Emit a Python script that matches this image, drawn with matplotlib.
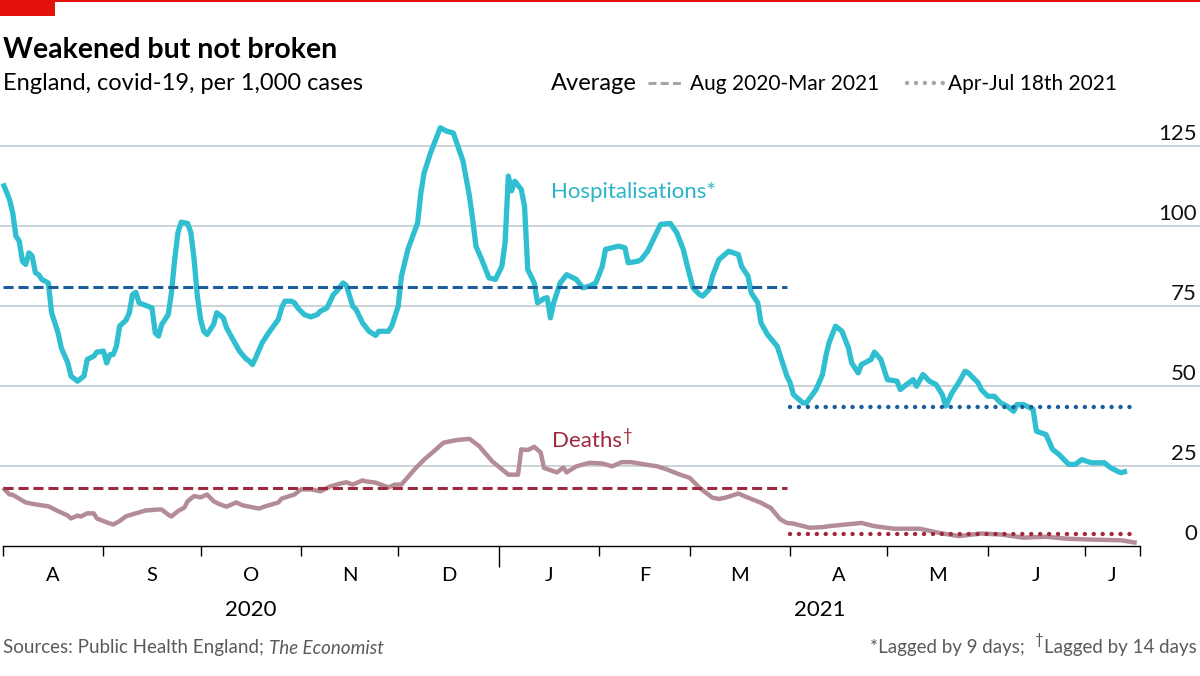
import matplotlib
matplotlib.use("Agg")
import matplotlib.pyplot as plt
import matplotlib.dates as mdates
import matplotlib.transforms as mtransforms
from matplotlib.lines import Line2D
from matplotlib.patches import Rectangle
import pandas as pd

plt.rcParams['font.family'] = ['Lato', 'DejaVu Sans']

# ---- data ----
start = pd.Timestamp('2020-08-01')
end = pd.Timestamp('2021-07-18')
split = pd.Timestamp('2021-04-01')

# days after 1 Aug 2020
hosp_day = [0, 2, 3, 4, 5, 6, 7, 8, 9, 10, 11, 12, 14, 15, 17, 18, 20, 21, 23, 25,
            26, 28, 29, 31, 32, 33, 34, 35, 36, 38, 39, 40, 41, 42, 44, 46, 47, 48, 49, 51,
            52, 53, 54, 55, 57, 58, 59, 60, 61, 62, 63, 65, 66, 68, 69, 71, 73, 75, 76, 77,
            78, 80, 82, 85, 86, 87, 89, 90, 91, 93, 95, 97, 98, 100, 102, 103, 105, 106, 108, 109,
            111, 113, 115, 116, 119, 120, 122, 123, 125, 128, 129, 130, 132, 134, 135, 137, 139, 142, 144, 145,
            146, 148, 149, 150, 152, 154, 155, 156, 157, 158, 160, 161, 162, 164, 165, 167, 168, 169, 170, 172,
            174, 177, 179, 181, 183, 185, 186, 188, 190, 192, 193, 196, 197, 199, 201, 203, 206, 208, 210, 211,
            213, 215, 216, 218, 219, 221, 224, 227, 228, 230, 231, 233, 234, 236, 239, 241, 242, 243, 244, 247,
            248, 251, 253, 254, 255, 257, 259, 261, 262, 264, 265, 268, 269, 271, 273, 276, 277, 279, 281, 282,
            284, 286, 288, 290, 291, 293, 295, 297, 298, 301, 302, 304, 306, 308, 310, 312, 313, 315, 318, 319,
            322, 324, 326, 329, 331, 333, 336, 340, 342, 345, 347]
hosp_val = [113.3, 108.3, 104.1, 96.8, 95.3, 89.0, 88.0, 91.6, 90.6, 85.4, 84.8, 83.3, 82.2, 72.9, 66.6, 61.9, 57.2, 53.1, 51.5, 53.1,
            58.3, 59.3, 60.6, 60.9, 57.2, 59.8, 59.8, 62.4, 68.7, 70.6, 72.9, 78.6, 79.3, 76.0, 75.2, 74.4, 66.6, 65.6, 69.2, 72.3,
            79.1, 89.5, 97.9, 101.2, 100.8, 97.9, 89.5, 78.1, 70.8, 67.1, 66.1, 69.2, 72.9, 71.3, 68.2, 64.5, 60.9, 58.5, 57.8, 56.7,
            58.8, 63.5, 66.6, 70.8, 74.4, 76.5, 76.5, 76.0, 74.4, 72.3, 71.6, 72.3, 73.4, 74.4, 78.6, 79.6, 82.2, 81.4, 74.9, 73.9,
            69.7, 67.1, 65.8, 67.1, 67.1, 68.7, 74.9, 84.3, 92.7, 101.0, 110.4, 116.6, 122.9, 128.1, 130.7, 129.6, 129.1, 120.3, 109.3, 102.0,
            93.7, 89.0, 86.4, 83.8, 83.3, 87.4, 94.8, 115.6, 111.0, 114.0, 111.4, 106.2, 86.4, 82.2, 76.0, 77.3, 77.6, 71.3, 76.0, 82.2,
            84.8, 83.3, 80.7, 81.2, 82.2, 87.4, 92.7, 93.2, 93.7, 93.2, 88.5, 89.0, 89.5, 92.1, 96.3, 100.5, 100.8, 97.9, 92.7, 88.5,
            80.7, 78.6, 78.1, 80.2, 84.3, 89.5, 92.1, 91.1, 87.4, 84.3, 79.1, 76.0, 69.7, 66.1, 62.4, 56.2, 53.1, 51.0, 47.3, 44.7,
            44.7, 48.9, 53.6, 59.3, 63.5, 68.7, 67.1, 61.9, 57.2, 54.1, 56.7, 58.3, 60.6, 58.3, 52.0, 51.5, 48.9, 50.5, 52.0, 49.9,
            53.6, 51.5, 50.5, 47.3, 43.7, 47.9, 51.0, 54.6, 54.1, 51.0, 48.9, 46.8, 46.8, 44.7, 43.7, 42.1, 44.2, 44.2, 42.7, 35.9,
            34.8, 30.2, 28.6, 25.5, 25.5, 27.0, 26.0, 26.0, 24.4, 22.9, 23.4]

death_day = [0, 2, 3, 5, 7, 10, 14, 17, 20, 21, 23, 24, 26, 28, 29, 32, 34, 36, 38, 41,
             44, 48, 49, 51, 52, 54, 56, 57, 59, 61, 63, 65, 67, 69, 72, 74, 77, 79, 81, 85,
             86, 90, 92, 95, 98, 101, 104, 106, 108, 111, 112, 115, 119, 121, 123, 127, 130, 133, 136, 140,
             144, 147, 151, 156, 159, 160, 162, 164, 166, 167, 169, 171, 173, 174, 177, 181, 185, 188, 191, 194,
             198, 202, 205, 209, 212, 215, 219, 221, 223, 227, 230, 234, 237, 240, 242, 244, 249, 253, 255, 260,
             265, 269, 275, 283, 289, 295, 302, 308, 315, 322, 328, 336, 345, 350]
death_val = [18.2, 16.1, 16.0, 14.8, 13.6, 13.0, 12.4, 10.9, 9.5, 8.6, 9.5, 9.2, 10.2, 10.2, 8.6, 7.4, 6.7, 7.8, 9.3, 10.2,
             11.1, 11.4, 11.4, 9.8, 9.2, 10.9, 12.0, 14.0, 15.6, 15.2, 16.1, 14.0, 13.0, 12.3, 13.6, 12.7, 12.1, 11.7, 12.4, 13.6,
             14.8, 16.1, 17.7, 17.7, 17.1, 18.6, 19.5, 19.9, 19.2, 20.5, 20.2, 19.8, 18.3, 19.2, 19.2, 23.9, 27.0, 29.6, 32.3, 33.1,
             33.5, 31.2, 26.5, 22.3, 22.3, 30.2, 30.0, 31.0, 29.2, 24.4, 23.7, 23.0, 24.5, 23.0, 24.9, 26.0, 25.8, 24.9, 26.2, 26.2,
             25.5, 24.9, 23.9, 22.3, 21.3, 18.2, 15.1, 14.7, 15.1, 16.4, 15.1, 13.5, 11.9, 8.3, 7.2, 7.0, 5.7, 5.9, 6.2, 6.7,
             7.2, 6.2, 5.4, 5.4, 4.1, 3.1, 3.9, 3.6, 2.6, 2.9, 2.3, 2.0, 1.8, 1.0]

hosp_avg = [81.0, 43.4]     # Aug 2020-Mar 2021, Apr-Jul 18th 2021
death_avg = [18.2, 3.9]

y_ticks = [0, 25, 50, 75, 100, 125]
month_letters = ['A', 'S', 'O', 'N', 'D', 'J', 'F', 'M', 'A', 'M', 'J', 'J']

# ---- colours ----
RED = '#e3120b'
CYAN = '#30bfd0'
HOSP_AVG = '#1b5e9c'
DEATH_LINE = '#b48c97'
DEATH_AVG = '#9f2a40'
GRID = '#c7d0d8'
GREY_TXT = '#5a5a5a'

W, H = 1200, 676


def fx(x):
    return x / W


def fy(y):
    return 1 - y / H


fig = plt.figure(figsize=(12, 6.76), dpi=100)
ax = fig.add_axes([fx(3), fy(546), (1140 - 3) / W, 432 / H])
ax.patch.set_visible(False)

x0, x1 = mdates.date2num(start), mdates.date2num(end)
ax.set_xlim(x0, x1)
ax.set_ylim(0, 135)

hosp_dates = start + pd.to_timedelta(hosp_day, unit='D')
death_dates = start + pd.to_timedelta(death_day, unit='D')

ax.plot(death_dates, death_val, color=DEATH_LINE, lw=3.2, solid_joinstyle='round',
        solid_capstyle='butt', clip_on=False, zorder=3)
ax.plot(hosp_dates, hosp_val, color=CYAN, lw=3.8, solid_joinstyle='round',
        solid_capstyle='butt', clip_on=False, zorder=4)

# averages
early = [start, split - pd.Timedelta(days=1)]
late = [split, end - pd.Timedelta(days=1)]
ax.plot(early, [hosp_avg[0]] * 2, color=HOSP_AVG, lw=2.2, dashes=(3.3, 1.6), zorder=5)
ax.plot(early, [death_avg[0]] * 2, color=DEATH_AVG, lw=2.2, dashes=(3.3, 1.6), zorder=5)
ax.plot(late, [hosp_avg[1]] * 2, color=HOSP_AVG, lw=3.2, linestyle=(0, (0.01, 2.0)),
        dash_capstyle='round', zorder=5)
ax.plot(late, [death_avg[1]] * 2, color=DEATH_AVG, lw=3.2, linestyle=(0, (0.01, 2.0)),
        dash_capstyle='round', zorder=5, clip_on=False)

# gridlines across the whole width, labels on the right
trans = mtransforms.blended_transform_factory(fig.transFigure, ax.transData)
lab_trans = mtransforms.offset_copy(trans, fig=fig, y=2, units='dots')
for v in y_ticks:
    if v > 0:
        fig.add_artist(Line2D([0, 1], [v, v], transform=trans, color=GRID, lw=1.3, zorder=-1))
    fig.text(fx(1197), v, str(v), transform=lab_trans, ha='right', va='bottom',
             fontsize=16, color='#111111')

# x axis
for s in ['top', 'left', 'right']:
    ax.spines[s].set_visible(False)
ax.spines['bottom'].set_linewidth(1.0)
ax.set_yticks([])

month_starts = list(pd.date_range('2020-08-01', '2021-07-01', freq='MS'))
tick_pos = month_starts + [end]
ax.set_xticks([mdates.date2num(d) for d in tick_pos])
ax.set_xticklabels([''] * len(tick_pos))
ax.tick_params(axis='x', which='major', direction='out', length=7.5, width=1.0, color='black')
ax.xaxis.get_major_ticks()[5].tick1line.set_markersize(15)

bounds = month_starts + [end]
centres = [mdates.date2num(bounds[i]) + (mdates.date2num(bounds[i + 1]) - mdates.date2num(bounds[i])) / 2
           for i in range(len(month_starts))]
ax.set_xticks(centres, minor=True)
ax.set_xticklabels(month_letters, minor=True, fontsize=14.5)
ax.tick_params(axis='x', which='minor', length=0, pad=15)

year_trans = mtransforms.blended_transform_factory(ax.transData, fig.transFigure)
ax.text((x0 + mdates.date2num(pd.Timestamp('2021-01-01'))) / 2, fy(610), '2020',
        transform=year_trans, ha='center', va='center', fontsize=16)
ax.text((mdates.date2num(pd.Timestamp('2021-01-01')) + x1) / 2, fy(610), '2021',
        transform=year_trans, ha='center', va='center', fontsize=16)

# series labels
fig.text(fx(551), fy(192), 'Hospitalisations*', color='#2bb4c7', fontsize=16, va='center')
dt = fig.text(fx(552), fy(441), 'Deaths', color=DEATH_AVG, fontsize=16, va='center')

# header
fig.add_artist(Rectangle((0, fy(2)), 1, 2 / H, transform=fig.transFigure, color=RED, lw=0))
fig.add_artist(Rectangle((0, fy(16)), 55 / W, 16 / H, transform=fig.transFigure, color=RED, lw=0))
fig.text(fx(3), fy(58), 'Weakened but not broken', fontsize=20.5, fontweight='bold', va='baseline')
fig.text(fx(3), fy(90), 'England, covid-19, per 1,000 cases', fontsize=17, va='baseline')

# legend
fig.text(fx(551), fy(90), 'Average', fontsize=17, va='baseline')
fig.add_artist(Line2D([fx(648), fx(681)], [fy(83), fy(83)], transform=fig.transFigure,
                      color='#a6a6a6', lw=2.2, dashes=(2.6, 1.4)))
fig.text(fx(690), fy(90), 'Aug 2020-Mar 2021', fontsize=15, va='baseline')
fig.add_artist(Line2D([fx(907), fx(944)], [fy(83), fy(83)], transform=fig.transFigure,
                      color='#a6a6a6', lw=3.2, linestyle=(0, (0.01, 2.0)), dash_capstyle='round'))
fig.text(fx(948), fy(90), 'Apr-Jul 18th 2021', fontsize=15, va='baseline')

# footer
src = fig.text(fx(3), fy(648), 'Sources: Public Health England; ', fontsize=13.5,
               color=GREY_TXT, va='center')
note2 = fig.text(fx(1197), fy(648), 'Lagged by 14 days', fontsize=13.5, color=GREY_TXT,
                 va='center', ha='right')

fig.canvas.draw()
r = fig.canvas.get_renderer()
bb = src.get_window_extent(r)
fig.text(bb.x1 / W, fy(648), 'The Economist', fontsize=13.5, color=GREY_TXT,
         va='center', style='italic')
bb = dt.get_window_extent(r)
fig.text(bb.x1 / W + 0.001, bb.y1 / H + 0.004, '\u2020', color=DEATH_AVG, fontsize=12, va='top')
bb = note2.get_window_extent(r)
dag = fig.text(bb.x0 / W - 0.001, fy(640), '\u2020', fontsize=11, color=GREY_TXT,
               va='center', ha='right')
fig.canvas.draw()
bb = dag.get_window_extent(r)
fig.text(bb.x0 / W - 0.008, fy(648), '*Lagged by 9 days;', fontsize=13.5, color=GREY_TXT,
         va='center', ha='right')

fig.savefig('out.png', dpi=100)
